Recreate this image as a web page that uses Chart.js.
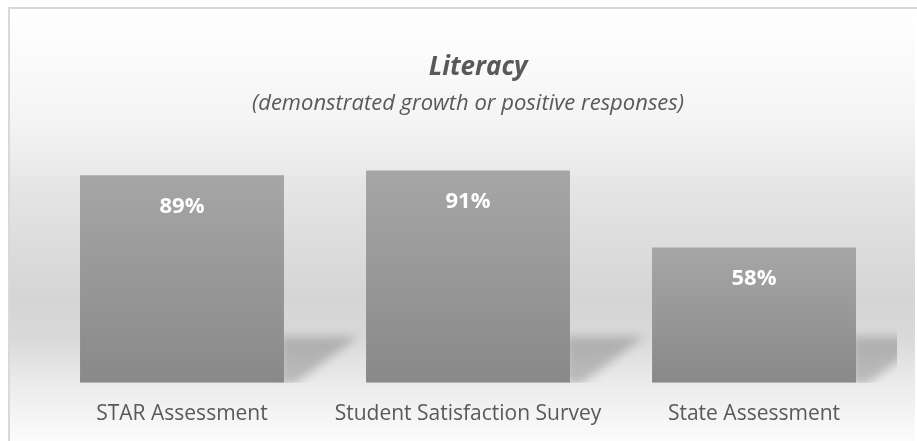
<!DOCTYPE html>
<html>
<head>
<meta charset="utf-8">
<script src="https://cdn.jsdelivr.net/npm/chart.js@4/dist/chart.umd.min.js"></script>
<style>
  html, body { margin: 0; padding: 0; background: #ffffff; }
  #wrap { width: 917px; height: 441px; }
</style>
</head>
<body>
<div id="wrap"><canvas id="myChart" width="917" height="441"></canvas></div>
<script>
const categories = ["STAR Assessment", "Student Satisfaction Survey", "State Assessment"];
const values = [89, 91, 58];
const valueLabels = ["89%", "91%", "58%"];

// backdrop: light border + soft vertical gradient
const backdrop = {
  id: "backdrop",
  beforeDraw(chart) {
    const c = chart.ctx;
    const h = chart.height;
    c.save();
    c.fillStyle = "#ffffff";
    c.fillRect(0, 0, chart.width, h);
    const g = c.createLinearGradient(0, 9, 0, h);
    g.addColorStop(0, "#ffffff");
    g.addColorStop(0.26, "#f4f4f4");
    g.addColorStop(0.44, "#e3e3e3");
    g.addColorStop(0.67, "#d5d5d5");
    g.addColorStop(0.76, "#d9d9d9");
    g.addColorStop(0.86, "#eaeaea");
    g.addColorStop(1, "#fcfcfc");
    c.fillStyle = g;
    c.fillRect(10, 9, chart.width - 12, h - 9);
    c.strokeStyle = "#d9d9d9";
    c.lineWidth = 2;
    c.strokeRect(9, 8, chart.width + 20, h + 20);
    c.restore();
  }
};

// floor shadow to the right of each bar
const barShadow = {
  id: "barShadow",
  beforeDatasetsDraw(chart) {
    const c = chart.ctx;
    const area = chart.chartArea;
    c.save();
    c.beginPath();
    c.rect(area.left, area.top, area.right - area.left, area.bottom - area.top);
    c.clip();
    c.filter = "blur(5px)";
    c.fillStyle = "rgba(0,0,0,0.2)";
    chart.getDatasetMeta(0).data.forEach(bar => {
      const right = bar.x + bar.width / 2;
      const base = bar.base;
      c.beginPath();
      c.moveTo(right - 4, base - 46);
      c.lineTo(right + 74, base - 46);
      c.lineTo(right + 10, base + 2);
      c.lineTo(right - 4, base + 2);
      c.closePath();
      c.fill();
    });
    c.restore();
  }
};

// value labels inside the top of each bar
const valueText = {
  id: "valueText",
  afterDatasetsDraw(chart) {
    const c = chart.ctx;
    c.save();
    c.fillStyle = "#ffffff";
    c.font = "bold 22px 'Open Sans'";
    c.textAlign = "center";
    c.textBaseline = "middle";
    chart.getDatasetMeta(0).data.forEach((bar, i) => {
      c.fillText(valueLabels[i], bar.x, bar.y + 31);
    });
    c.restore();
  }
};

function barGradient(context) {
  const chart = context.chart;
  const y = chart.scales.y;
  if (!y || !chart.chartArea) return "#999999";
  const top = y.getPixelForValue(values[context.dataIndex]);
  const bottom = y.getPixelForValue(0);
  const g = chart.ctx.createLinearGradient(0, top, 0, bottom);
  g.addColorStop(0, "#a6a6a6");
  g.addColorStop(1, "#898989");
  return g;
}

const data = {
  labels: categories,
  datasets: [
    {
      label: "Literacy",
      data: values,
      backgroundColor: barGradient,
      borderWidth: 0,
      barPercentage: 0.713,
      categoryPercentage: 1.0,
    },
  ],
};

const config = {
  type: "bar",
  data: data,
  plugins: [backdrop, barShadow, valueText],
  options: {
    responsive: false,
    animation: false,
    layout: {
      padding: { left: 39, right: 20, top: 0, bottom: -5 },
    },
    plugins: {
      legend: { display: false },
      tooltip: { enabled: false },
      title: {
        display: true,
        text: "   Literacy",
        color: "#595959",
        font: { family: "'Open Sans'", size: 26, weight: "bold", style: "italic", lineHeight: 1.2 },
        padding: { top: 52, bottom: 0 },
      },
      subtitle: {
        display: true,
        text: "(demonstrated growth or positive responses)",
        color: "#595959",
        font: { family: "'Open Sans'", size: 22, style: "italic", lineHeight: 1.2 },
        padding: { top: 7, bottom: 33 },
      },
    },
    scales: {
      x: {
        grid: { display: false, drawTicks: false },
        border: { display: false },
        ticks: {
          color: "#595959",
          padding: 19,
          font: { family: "'Open Sans'", size: 21, lineHeight: 1.2 },
          maxRotation: 0,
        },
      },
      y: {
        display: false,
        min: 0,
        max: 100,
      },
    },
  },
};
const ctx = document.getElementById("myChart").getContext("2d");

const myChart = new Chart(ctx, config);
</script>
</body>
</html>
